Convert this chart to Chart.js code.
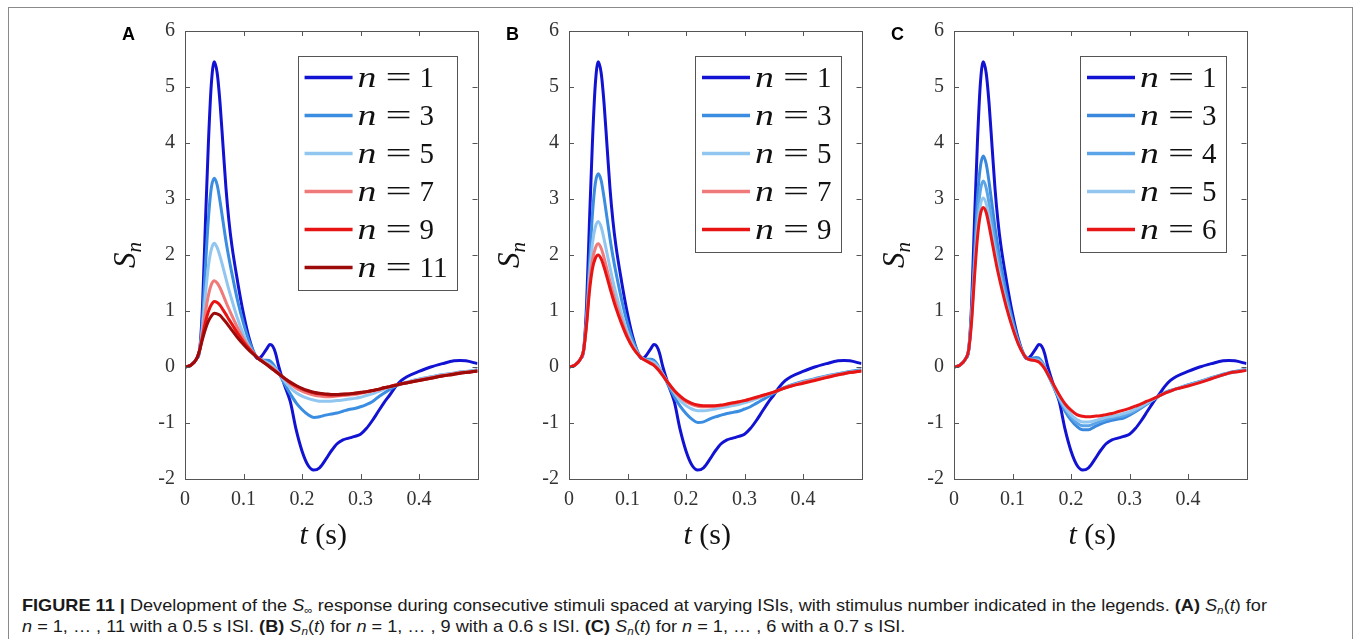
<!DOCTYPE html>
<html>
<head>
<meta charset="utf-8">
<title>Figure 11</title>
<script src="https://cdn.jsdelivr.net/npm/chart.js@4.4.1/dist/chart.umd.min.js"></script>
<style>
  html, body { margin: 0; padding: 0; background: #fff; }
  body { width: 1360px; height: 639px; position: relative; overflow: hidden; }
  #frame { position: absolute; left: 8px; top: 7px; width: 1343px; height: 660px; border: 1px solid #8a8a8a; }
  .panel { position: absolute; top: 0; width: 400px; height: 560px; }
  .cap { position: absolute; left: 22px; white-space: nowrap; line-height: 20px;
         font-family: "Liberation Sans", Arial, sans-serif;
         font-size: 17px; color: #1a1a1a; transform-origin: 0 50%; }
  .cap sub { font-size: 11px; vertical-align: -3px; line-height: 0; }
</style>
</head>
<body>
<div id="frame"></div>
<div class="panel" style="left:90px"><canvas id="chartA" width="400" height="560"></canvas></div>
<div class="panel" style="left:474px"><canvas id="chartB" width="400" height="560"></canvas></div>
<div class="panel" style="left:859px"><canvas id="chartC" width="400" height="560"></canvas></div>
<div class="cap" id="cap1" style="top:596px"><b>FIGURE 11 |</b> Development of the <i>S</i><sub>∞</sub> response during consecutive stimuli spaced at varying ISIs, with stimulus number indicated in the legends. <b>(A)</b> <i>S<sub>n</sub></i>(<i>t</i>) for</div>
<div class="cap" id="cap2" style="top:617px"><i>n</i> = 1, … , 11 with a 0.5 s ISI. <b>(B)</b> <i>S<sub>n</sub></i>(<i>t</i>) for <i>n</i> = 1, … , 9 with a 0.6 s ISI. <b>(C)</b> <i>S<sub>n</sub></i>(<i>t</i>) for <i>n</i> = 1, … , 6 with a 0.7 s ISI.</div>
<script>
// time axis (s), shared by every curve
const tVals = [0, 0.01, 0.02, 0.025, 0.03, 0.035, 0.04, 0.045, 0.05, 0.055,
  0.06, 0.065, 0.07, 0.075, 0.08, 0.09, 0.1, 0.11, 0.12, 0.125,
  0.13, 0.14, 0.145, 0.15, 0.155, 0.16, 0.17, 0.18, 0.19, 0.2,
  0.21, 0.22, 0.23, 0.24, 0.25, 0.26, 0.27, 0.28, 0.29, 0.3,
  0.31, 0.32, 0.33, 0.34, 0.35, 0.36, 0.37, 0.38, 0.4, 0.42,
  0.44, 0.46, 0.47, 0.48, 0.5];

const xTicks = [0, 0.1, 0.2, 0.3, 0.4];
const yTicks = [-2, -1, 0, 1, 2, 3, 4, 5, 6];

// n = 1 response (same in all panels)
const s1 = [0, 0.03, 0.15, 0.3, 1.1, 2.6, 4.0, 5.05, 5.45, 5.25,
  4.7, 3.95, 3.2, 2.62, 2.18, 1.52, 0.95, 0.5, 0.2, 0.15,
  0.18, 0.33, 0.4, 0.37, 0.24, 0.02, -0.32, -0.62, -1.12, -1.5,
  -1.75, -1.84, -1.8, -1.66, -1.5, -1.37, -1.3, -1.27, -1.24, -1.2,
  -1.1, -0.96, -0.8, -0.64, -0.5, -0.35, -0.24, -0.17, -0.08, 0.0,
  0.06, 0.11, 0.115, 0.11, 0.06];

// panel A, 0.5 s ISI
const a3 = [0, 0.03, 0.15, 0.3, 0.85, 1.8, 2.65, 3.2, 3.37, 3.25,
  2.95, 2.6, 2.25, 1.95, 1.68, 1.18, 0.78, 0.45, 0.22, 0.16,
  0.13, 0.12, 0.11, 0.06, -0.02, -0.1, -0.3, -0.48, -0.64, -0.76,
  -0.85, -0.9, -0.89, -0.86, -0.84, -0.82, -0.79, -0.76, -0.74, -0.71,
  -0.67, -0.62, -0.54, -0.47, -0.4, -0.34, -0.3, -0.27, -0.22, -0.18,
  -0.14, -0.11, -0.09, -0.08, -0.05];
const a5 = [0, 0.03, 0.15, 0.3, 0.7, 1.3, 1.8, 2.1, 2.21, 2.13,
  1.97, 1.78, 1.58, 1.38, 1.2, 0.86, 0.58, 0.36, 0.21, 0.16,
  0.13, 0.08, 0.05, 0.01, -0.04, -0.11, -0.25, -0.37, -0.46, -0.52,
  -0.56, -0.59, -0.61, -0.61, -0.61, -0.6, -0.59, -0.57, -0.56, -0.54,
  -0.51, -0.48, -0.44, -0.4, -0.36, -0.33, -0.3, -0.27, -0.22, -0.18,
  -0.14, -0.11, -0.1, -0.08, -0.06];
const a7 = [0, 0.03, 0.15, 0.3, 0.6, 0.98, 1.28, 1.47, 1.54, 1.5,
  1.41, 1.29, 1.16, 1.04, 0.92, 0.7, 0.5, 0.34, 0.21, 0.16,
  0.12, 0.05, 0.02, -0.02, -0.06, -0.11, -0.21, -0.3, -0.38, -0.43,
  -0.47, -0.5, -0.52, -0.53, -0.53, -0.52, -0.51, -0.5, -0.49, -0.47,
  -0.45, -0.43, -0.41, -0.38, -0.35, -0.32, -0.3, -0.28, -0.23, -0.19,
  -0.15, -0.12, -0.1, -0.09, -0.07];
const a9 = [0, 0.03, 0.15, 0.3, 0.55, 0.8, 0.99, 1.11, 1.17, 1.15,
  1.1, 1.02, 0.94, 0.85, 0.77, 0.6, 0.45, 0.32, 0.21, 0.16,
  0.12, 0.04, 0.0, -0.04, -0.08, -0.12, -0.2, -0.28, -0.34, -0.39,
  -0.43, -0.46, -0.48, -0.49, -0.5, -0.5, -0.49, -0.48, -0.47, -0.46,
  -0.44, -0.42, -0.4, -0.37, -0.35, -0.32, -0.3, -0.28, -0.24, -0.2,
  -0.16, -0.13, -0.11, -0.1, -0.07];
const a11 = [0, 0.03, 0.15, 0.3, 0.5, 0.68, 0.82, 0.91, 0.96, 0.95,
  0.92, 0.86, 0.8, 0.73, 0.66, 0.52, 0.4, 0.29, 0.2, 0.15,
  0.11, 0.04, 0.0, -0.04, -0.08, -0.12, -0.2, -0.27, -0.33, -0.38,
  -0.42, -0.45, -0.47, -0.48, -0.49, -0.49, -0.48, -0.48, -0.47, -0.45,
  -0.44, -0.42, -0.4, -0.37, -0.35, -0.33, -0.3, -0.28, -0.24, -0.2,
  -0.16, -0.13, -0.11, -0.1, -0.07];

// panel B, 0.6 s ISI
const b3 = [0, 0.03, 0.15, 0.3, 0.9, 1.85, 2.72, 3.28, 3.45, 3.33,
  3.02, 2.66, 2.3, 1.98, 1.7, 1.2, 0.78, 0.45, 0.22, 0.16,
  0.14, 0.14, 0.12, 0.06, -0.03, -0.12, -0.33, -0.53, -0.7, -0.83,
  -0.93, -0.99, -0.98, -0.93, -0.89, -0.86, -0.83, -0.81, -0.79, -0.75,
  -0.71, -0.65, -0.59, -0.53, -0.47, -0.41, -0.36, -0.32, -0.26, -0.21,
  -0.16, -0.12, -0.1, -0.08, -0.05];
const b5 = [0, 0.03, 0.15, 0.3, 0.8, 1.6, 2.2, 2.5, 2.6, 2.5,
  2.28, 2.03, 1.78, 1.54, 1.33, 0.95, 0.62, 0.38, 0.21, 0.16,
  0.13, 0.1, 0.08, 0.03, -0.04, -0.12, -0.3, -0.46, -0.6, -0.69,
  -0.75, -0.78, -0.78, -0.77, -0.75, -0.73, -0.71, -0.69, -0.67, -0.64,
  -0.61, -0.57, -0.53, -0.49, -0.45, -0.41, -0.37, -0.33, -0.27, -0.22,
  -0.17, -0.13, -0.11, -0.09, -0.06];
const b7 = [0, 0.03, 0.15, 0.3, 0.78, 1.45, 1.9, 2.12, 2.2, 2.12,
  1.95, 1.74, 1.53, 1.33, 1.15, 0.83, 0.55, 0.34, 0.2, 0.15,
  0.12, 0.07, 0.04, -0.01, -0.07, -0.14, -0.29, -0.43, -0.54, -0.62,
  -0.67, -0.7, -0.71, -0.71, -0.7, -0.69, -0.67, -0.65, -0.63, -0.6,
  -0.58, -0.55, -0.52, -0.48, -0.45, -0.41, -0.37, -0.34, -0.28, -0.23,
  -0.18, -0.14, -0.12, -0.1, -0.07];
const b9 = [0, 0.03, 0.15, 0.3, 0.75, 1.35, 1.75, 1.94, 2.0, 1.93,
  1.78, 1.6, 1.41, 1.23, 1.06, 0.77, 0.52, 0.33, 0.2, 0.15,
  0.12, 0.06, 0.03, -0.02, -0.08, -0.15, -0.29, -0.42, -0.52, -0.6,
  -0.65, -0.68, -0.69, -0.69, -0.69, -0.68, -0.66, -0.64, -0.62, -0.6,
  -0.57, -0.54, -0.51, -0.48, -0.45, -0.41, -0.37, -0.34, -0.29, -0.24,
  -0.19, -0.14, -0.12, -0.1, -0.07];

// panel C, 0.7 s ISI
const c3 = [0, 0.03, 0.15, 0.3, 0.95, 2.0, 3.0, 3.57, 3.77, 3.63,
  3.3, 2.9, 2.5, 2.15, 1.84, 1.3, 0.84, 0.47, 0.22, 0.16,
  0.15, 0.17, 0.16, 0.1, 0.0, -0.12, -0.35, -0.58, -0.79, -0.95,
  -1.06, -1.12, -1.12, -1.07, -1.02, -0.98, -0.95, -0.93, -0.91, -0.86,
  -0.8, -0.73, -0.66, -0.59, -0.52, -0.46, -0.42, -0.39, -0.32, -0.26,
  -0.19, -0.13, -0.1, -0.08, -0.04];
const c4 = [0, 0.03, 0.15, 0.3, 0.9, 1.8, 2.65, 3.15, 3.32, 3.2,
  2.92, 2.58, 2.24, 1.93, 1.66, 1.18, 0.77, 0.44, 0.21, 0.15,
  0.14, 0.14, 0.13, 0.08, -0.01, -0.12, -0.34, -0.56, -0.75, -0.9,
  -1.0, -1.05, -1.05, -1.01, -0.97, -0.94, -0.91, -0.89, -0.87, -0.83,
  -0.78, -0.72, -0.65, -0.58, -0.52, -0.46, -0.42, -0.39, -0.32, -0.26,
  -0.2, -0.14, -0.11, -0.09, -0.05];
const c5 = [0, 0.03, 0.15, 0.3, 0.85, 1.7, 2.45, 2.88, 3.02, 2.92,
  2.67, 2.37, 2.07, 1.79, 1.54, 1.1, 0.73, 0.42, 0.21, 0.15,
  0.13, 0.12, 0.11, 0.06, -0.02, -0.12, -0.33, -0.54, -0.72, -0.85,
  -0.94, -0.98, -0.98, -0.96, -0.93, -0.9, -0.88, -0.86, -0.83, -0.8,
  -0.75, -0.7, -0.64, -0.58, -0.52, -0.47, -0.43, -0.39, -0.33, -0.27,
  -0.2, -0.14, -0.11, -0.09, -0.05];
const c6 = [0, 0.03, 0.15, 0.3, 0.8, 1.6, 2.3, 2.72, 2.85, 2.76,
  2.52, 2.24, 1.96, 1.7, 1.47, 1.05, 0.7, 0.41, 0.21, 0.15,
  0.13, 0.11, 0.09, 0.04, -0.03, -0.12, -0.31, -0.5, -0.66, -0.77,
  -0.85, -0.88, -0.89, -0.88, -0.87, -0.85, -0.83, -0.8, -0.77, -0.74,
  -0.7, -0.66, -0.61, -0.57, -0.52, -0.47, -0.43, -0.39, -0.34, -0.28,
  -0.21, -0.14, -0.11, -0.09, -0.06];

const labelsA = ['1', '3', '5', '7', '9', '11'];
const labelsB = ['1', '3', '5', '7', '9'];
const labelsC = ['1', '3', '4', '5', '6'];

const colorsA = ['#1212d2', '#3a8de0', '#90c6f0', '#f07a7a', '#e81414', '#9c0a0a'];
const colorsB = ['#1212d2', '#3a8de0', '#90c6f0', '#f07a7a', '#e81414'];
const colorsC = ['#1212d2', '#3a88dd', '#5ca4e8', '#92c6ef', '#e81616'];

const serif = '"Liberation Serif", "DejaVu Serif", serif';
const axisColor = '#555';

// box, inner ticks, legend, axis labels and panel letter
const matlabLook = {
  id: 'matlabLook',
  afterDraw(chart) {
    const ctx = chart.ctx;
    const { left, right, top, bottom } = chart.chartArea;
    const sx = chart.scales.x, sy = chart.scales.y;
    ctx.save();

    ctx.strokeStyle = axisColor;
    ctx.lineWidth = 1;
    ctx.strokeRect(Math.round(left) + 0.5, Math.round(top) + 0.5,
      Math.round(right - left), Math.round(bottom - top));
    ctx.beginPath();
    xTicks.forEach(v => {
      const px = Math.round(sx.getPixelForValue(v)) + 0.5;
      ctx.moveTo(px, bottom); ctx.lineTo(px, bottom - 5);
      ctx.moveTo(px, top); ctx.lineTo(px, top + 5);
    });
    yTicks.forEach(v => {
      const py = Math.round(sy.getPixelForValue(v)) + 0.5;
      ctx.moveTo(left, py); ctx.lineTo(left + 5, py);
      ctx.moveTo(right, py); ctx.lineTo(right - 5, py);
    });
    ctx.stroke();

    // legend
    const sets = chart.data.datasets;
    const opts = chart.options.plugins.matlabLook;
    const rowH = 38;
    const digitFont = '29px ' + serif;
    ctx.font = digitFont;
    let maxDigits = 0;
    sets.forEach(d => { maxDigits = Math.max(maxDigits, ctx.measureText(d.label).width); });
    const boxW = 61 + 63 + maxDigits + 7;
    const boxR = right - 21;
    const boxL = boxR - boxW;
    const boxT = top + 25;
    const boxH = 21.5 + (sets.length - 1) * rowH + 22;
    ctx.fillStyle = '#fff';
    ctx.fillRect(boxL, boxT, boxW, boxH);
    ctx.strokeStyle = axisColor;
    ctx.strokeRect(Math.round(boxL) + 0.5, Math.round(boxT) + 0.5, Math.round(boxW), Math.round(boxH));
    sets.forEach((d, i) => {
      const ry = boxT + 21.5 + i * rowH;
      ctx.strokeStyle = d.borderColor;
      ctx.lineWidth = 3.5;
      ctx.beginPath();
      ctx.moveTo(boxL + 7, ry); ctx.lineTo(boxL + 55, ry);
      ctx.stroke();
      const x0 = boxL + 60;
      const base = ry + 9;
      ctx.fillStyle = '#111';
      ctx.textAlign = 'left';
      ctx.textBaseline = 'alphabetic';
      // italic n, widened like the TeX glyph
      ctx.save();
      ctx.font = 'italic 29px ' + serif;
      ctx.translate(x0, base);
      ctx.scale(1.3, 1);
      ctx.fillText('n', 0, 0);
      ctx.restore();
      ctx.save();
      ctx.font = '29px ' + serif;
      ctx.translate(x0 + 41, base);
      ctx.scale(1.6, 1);
      ctx.textAlign = 'center';
      ctx.fillText('=', 0, 0);
      ctx.restore();
      ctx.font = digitFont;
      ctx.fillText(d.label, x0 + 62, base);
    });

    // y label S_n
    ctx.fillStyle = '#111';
    ctx.save();
    ctx.translate(left - 60, (top + bottom) / 2);
    ctx.rotate(-Math.PI / 2);
    ctx.font = 'italic 31px ' + serif;
    const wS = ctx.measureText('S').width;
    ctx.font = 'italic 21px ' + serif;
    const wN = ctx.measureText('n').width;
    const startX = -(wS + wN) / 2;
    ctx.textAlign = 'left';
    ctx.font = 'italic 31px ' + serif;
    ctx.fillText('S', startX, 10);
    ctx.font = 'italic 21px ' + serif;
    ctx.fillText('n', startX + wS, 16);
    ctx.restore();

    // x label t (s)
    ctx.font = 'italic 30px ' + serif;
    const wt = ctx.measureText('t').width;
    ctx.font = '30px ' + serif;
    const wRest = ctx.measureText(' (s)').width;
    const cx = (left + right) / 2 - 8;
    const lx = cx - (wt + wRest) / 2;
    ctx.textAlign = 'left';
    ctx.font = 'italic 30px ' + serif;
    ctx.fillText('t', lx, bottom + 65);
    ctx.font = '30px ' + serif;
    ctx.fillText(' (s)', lx + wt, bottom + 65);

    // panel letter
    ctx.font = 'bold 18px "Liberation Sans", Arial, sans-serif';
    ctx.fillStyle = '#000';
    ctx.fillText(opts.letter, left - 63, top + 9);

    ctx.restore();
  }
};

function makePanel(canvasId, letter, labels, series, colors) {
  const ctx = document.getElementById(canvasId).getContext('2d');
  const datasets = series.map((vals, i) => ({
    label: labels[i],
    data: tVals.map((t, k) => ({ x: t, y: vals[k] })),
    borderColor: colors[i],
    borderWidth: 3,
    pointRadius: 0,
    fill: false,
    cubicInterpolationMode: 'monotone',
    order: series.length - i
  }));
  return new Chart(ctx, {
    type: 'line',
    data: { datasets: datasets },
    options: {
      responsive: false,
      animation: false,
      devicePixelRatio: 1,
      layout: { padding: { top: 31, left: 0, right: 12.5, bottom: 0 } },
      plugins: {
        legend: { display: false },
        tooltip: { enabled: false },
        matlabLook: { letter: letter }
      },
      scales: {
        x: {
          type: 'linear', min: 0, max: 0.5,
          grid: { display: false, drawTicks: false },
          border: { display: false },
          ticks: { stepSize: 0.1, padding: 9, color: '#333', maxRotation: 0, autoSkip: false,
                   font: { family: serif, size: 20 } },
          afterBuildTicks: s => { s.ticks = s.ticks.filter(tk => tk.value < 0.45); },
          afterFit: s => { s.height = 81; }
        },
        y: {
          type: 'linear', min: -2, max: 6,
          grid: { display: false, drawTicks: false },
          border: { display: false },
          ticks: { stepSize: 1, padding: 10, color: '#333',
                   font: { family: serif, size: 20 } },
          afterFit: s => { s.width = 95; }
        }
      }
    },
    plugins: [matlabLook]
  });
}

document.addEventListener('DOMContentLoaded', () => {
  makePanel('chartA', 'A', labelsA, [s1, a3, a5, a7, a9, a11], colorsA);
  makePanel('chartB', 'B', labelsB, [s1, b3, b5, b7, b9], colorsB);
  makePanel('chartC', 'C', labelsC, [s1, c3, c4, c5, c6], colorsC);

  // squeeze caption lines to the reference width (condensed face)
  const cap1 = document.getElementById('cap1');
  const cap2 = document.getElementById('cap2');
  const k = 1245 / cap1.getBoundingClientRect().width;
  cap1.style.transform = 'scaleX(' + k + ')';
  cap2.style.transform = 'scaleX(' + k + ')';
});
</script>
</body>
</html>
